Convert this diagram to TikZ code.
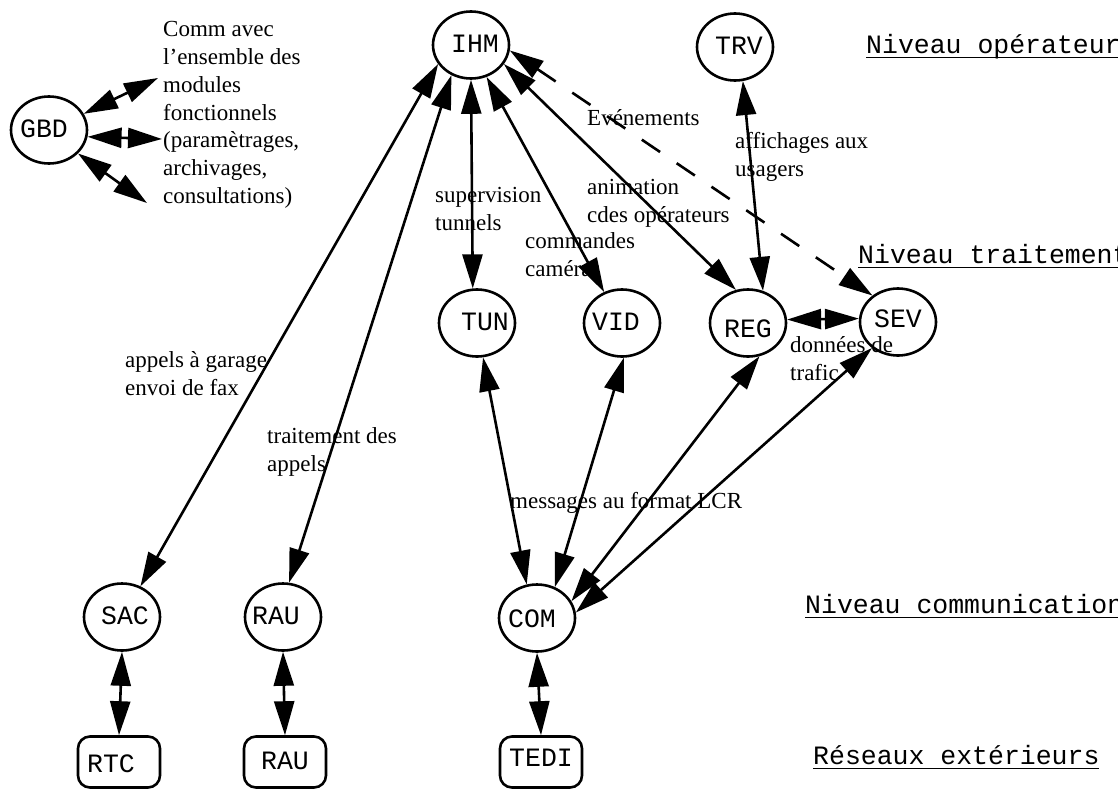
\documentclass[tikz,border=0pt]{standalone}
\usepackage{fontspec}
\setmainfont{Liberation Serif}[Ligatures=ResetAll]
\newfontfamily\monof{Liberation Mono}
\newcommand{\ulx}[1]{\setbox0\hbox{#1}\rlap{\rule[-5.4pt]{\wd0}{1.4pt}}\box0}
% label placed in a zero-size box: #1 = twice the right shift, #2 = down shift
\newcommand{\lab}[3]{\raisebox{\dimexpr-7.8pt-#2\relax}[0pt][0pt]{\makebox[0pt]{\hspace*{#1}#3}}}
\usetikzlibrary{shapes.geometric,arrows.meta}
\begin{document}
\begin{tikzpicture}[x=1pt,y=-1pt,
  mod/.style={ellipse, draw, line width=2.6pt, minimum width=76pt, minimum height=67pt, inner sep=0pt, font=\monof\fontsize{26.5}{30}\selectfont},
  ext/.style={rectangle, rounded corners=12pt, draw, line width=2.6pt, minimum width=82pt, minimum height=51pt, inner sep=0pt, font=\monof\fontsize{26.5}{30}\selectfont},
  lbl/.style={anchor=north west, inner sep=0pt, align=left, font=\fontsize{23}{27.7}\selectfont},
  lvl/.style={anchor=base west, inner sep=0pt, font=\monof\fontsize{26.5}{30}\selectfont},
  link/.style={line width=2.6pt, {Triangle[length=34pt,width=20pt]}-{Triangle[length=34pt,width=20pt]}},
  dlink/.style={link, dash pattern=on 22pt off 20pt}
]
\useasboundingbox (0,0) rectangle (1118,790);

% modules
\node[mod] (GBD) at (49,130) {\lab{-10pt}{0pt}{GBD}};
\node[mod] (IHM) at (471,45) {\lab{8pt}{0pt}{IHM}};
\node[mod] (TRV) at (735,47) {\lab{8pt}{0pt}{TRV}};
\node[mod] (TUN) at (477,323) {\lab{16pt}{0pt}{TUN}};
\node[mod] (VID) at (622,323) {\lab{-12pt}{0pt}{VID}};
\node[mod] (REG) at (748,323) {\lab{0pt}{7pt}{REG}};
\node[mod] (SEV) at (898,322) {\lab{0pt}{-2pt}{SEV}};
\node[mod] (SAC) at (122,617) {\lab{6pt}{0pt}{SAC}};
\node[mod] (RAUm) at (283,617) {\lab{-14pt}{0pt}{RAU}};
\node[mod] (COM) at (537,618) {\lab{-10pt}{2pt}{COM}};
\node[ext] (RTC) at (119,762) {\lab{-16pt}{3pt}{RTC}};
\node[ext] (RAUx) at (285,762) {\lab{0pt}{0pt}{RAU}};
\node[ext] (TEDI) at (541,762) {\lab{0pt}{-3pt}{TEDI}};

% free ends of GBD links
\coordinate (g1) at (158,78);
\coordinate (g2) at (162,139);
\coordinate (g3) at (147,203);

% texts
\node[lbl] (tcomm) at (163,21.5) {Comm avec\\l'ensemble des\\modules\\fonctionnels\\(paramètrages,\\archivages,\\consultations)};
\node[lbl] (tevt) at (587,109.5) {Evénements};
\node[lbl] (taff) at (735,132.5) {affichages aux\\usagers};
\node[lbl] (tsup) at (435,187.5) {supervision\\tunnels};
\node[lbl] (tani) at (587,179.5) {animation\\cdes opérateurs};
\node[lbl] (tcmd) at (525,232.5) {commandes\\caméras};
\node[lbl] (tdon) at (790,336.5) {données de\\trafic};
\node[lbl] (tapp) at (125,351.5) {appels à garage\\envoi de fax};
\node[lbl] (ttra) at (267,427.5) {traitement des\\appels};
\node[lbl] (tmsg) at (510,492.5) {messages au format LCR};

% level labels
\node[lvl] (nop) at (866,53) {\ulx{Niveau opérateur}};
\node[lvl] (ntr) at (858,263) {\ulx{Niveau traitement}};
\node[lvl] (nco) at (805,613) {\ulx{Niveau communication}};
\node[lvl] (nre) at (813,764) {\ulx{Réseaux extérieurs}};

% connectors
\draw[link] (GBD.25) -- (g1);
\draw[link] (GBD.350) -- (g2);
\draw[link] (GBD.321) -- (g3);
\draw[link] (IHM.210) -- (SAC.59);
\draw[link] (IHM.237) -- (RAUm.80);
\draw[link] (IHM.270) -- (TUN.97);
\draw[link] (IHM.296) -- (VID.120);
\draw[link] (IHM.330) -- (REG.110);
\draw[dlink] (IHM.352) -- (SEV.134);
\draw[link] (TRV.283) -- (REG.65);
\draw[link] (REG.5) -- (SEV.175);
\draw[link] (TUN.280) -- (COM.107);
\draw[link] (VID.273) -- (COM.60);
\draw[link] (REG.289) -- (COM.26);
\draw[link] (SEV.225) -- (COM.8);
\draw[link] (SAC.south) -- (RTC.north);
\draw[link] (RAUm.south) -- (RAUx.north);
\draw[link] (COM.south) -- (TEDI.north);
\end{tikzpicture}
\end{document}
